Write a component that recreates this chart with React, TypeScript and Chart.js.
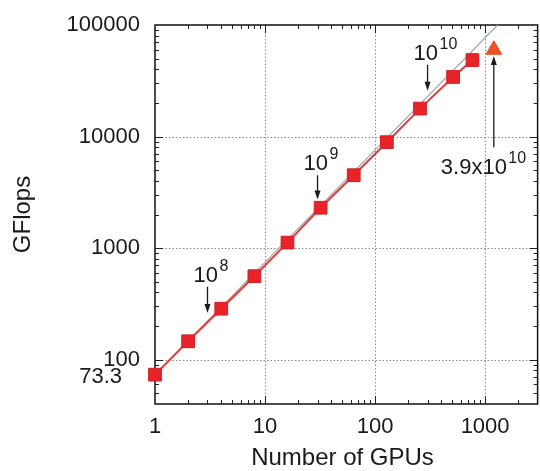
import React, { useEffect, useRef } from "react";
import { Chart, registerables } from "chart.js";

Chart.register(...registerables);

// ---- data ----
const gpuCounts = [1, 2, 4, 8, 16, 32, 64, 128, 256, 512, 768];
const measuredGflops = [73.3, 146, 286, 560, 1120, 2300, 4500, 8900, 17800, 34200, 48500];
const idealGpus = [1, 1300];
const idealGflops = [73.3, 100000];
const peakGpus = [1200];
const peakGflops = [60000];
const xTickValues = [1, 10, 100, 1000];
const yTickValues = [100, 1000, 10000, 100000];
const xRangeEnd = 3000; // right edge of the plot frame (lies just past the picture)
const baseLabelValue = 73.3;
const baseLabelText = "73.3";

// annotations (problem sizes), arrows in data coordinates
const noteGpus = [3, 30, 300, 1200];
const noteFromGflops = [450, 4500, 44000, 8000];
const noteToGflops = [262, 2730, 25700, 52700];
const noteBase = ["10", "10", "10", "3.9x10"];
const noteExp = ["8", "9", "10", "10"];

const FONT = "'Liberation Sans', Arial, Helvetica, sans-serif";

const decorPlugin = {
  id: "decor",
  beforeDatasetsDraw(chart: any) {
    const { ctx, chartArea: a, scales } = chart;
    const xs = scales.x;
    const ys = scales.y;
    const R = xs.getPixelForValue(xRangeEnd);
    ctx.save();
    // dotted grid at decades
    ctx.strokeStyle = "#8c8c8c";
    ctx.lineWidth = 1;
    ctx.setLineDash([1.5, 2]);
    xTickValues.forEach((v) => {
      if (v <= xs.min || v >= xRangeEnd) return;
      const px = Math.round(xs.getPixelForValue(v)) + 0.5;
      ctx.beginPath();
      ctx.moveTo(px, a.top);
      ctx.lineTo(px, a.bottom);
      ctx.stroke();
    });
    yTickValues.forEach((v) => {
      if (v <= ys.min || v >= ys.max) return;
      const py = Math.round(ys.getPixelForValue(v)) + 0.5;
      ctx.beginPath();
      ctx.moveTo(a.left, py);
      ctx.lineTo(R, py);
      ctx.stroke();
    });
    ctx.setLineDash([]);
    // inward ticks on all four sides
    ctx.strokeStyle = "#222";
    ctx.lineWidth = 1;
    for (let e = 0; e <= 4; e++) {
      for (let n = 1; n <= 9; n++) {
        const v = n * Math.pow(10, e);
        if (v <= xs.min || v >= xRangeEnd) continue;
        const len = n === 1 ? 8 : 4;
        const px = Math.round(xs.getPixelForValue(v)) + 0.5;
        ctx.beginPath();
        ctx.moveTo(px, a.bottom);
        ctx.lineTo(px, a.bottom - len);
        ctx.moveTo(px, a.top);
        ctx.lineTo(px, a.top + len);
        ctx.stroke();
      }
    }
    for (let e = 1; e <= 5; e++) {
      for (let n = 1; n <= 9; n++) {
        const v = n * Math.pow(10, e);
        if (v <= ys.min || v >= ys.max) continue;
        const len = n === 1 ? 8 : 4;
        const py = Math.round(ys.getPixelForValue(v)) + 0.5;
        ctx.beginPath();
        ctx.moveTo(a.left, py);
        ctx.lineTo(a.left + len, py);
        ctx.moveTo(R, py);
        ctx.lineTo(R - len, py);
        ctx.stroke();
      }
    }
    // frame
    ctx.lineWidth = 1.5;
    ctx.strokeStyle = "#111";
    ctx.strokeRect(a.left, a.top, R - a.left, a.bottom - a.top);
    ctx.restore();
  },
  afterDatasetsDraw(chart: any) {
    const { ctx, chartArea: a, scales } = chart;
    const xs = scales.x;
    const ys = scales.y;
    ctx.save();
    ctx.fillStyle = "#1a1a1a";
    ctx.strokeStyle = "#1a1a1a";
    // arrows + labels
    noteGpus.forEach((g, i) => {
      const x = xs.getPixelForValue(g);
      const yFrom = ys.getPixelForValue(noteFromGflops[i]);
      const yTo = ys.getPixelForValue(noteToGflops[i]);
      const dir = yTo > yFrom ? 1 : -1;
      const headLen = 9;
      const headW = 3;
      ctx.lineWidth = 1.3;
      ctx.beginPath();
      ctx.moveTo(x, yFrom);
      ctx.lineTo(x, yTo - dir * headLen * 0.8);
      ctx.stroke();
      ctx.beginPath();
      ctx.moveTo(x, yTo);
      ctx.lineTo(x - headW, yTo - dir * headLen);
      ctx.lineTo(x + headW, yTo - dir * headLen);
      ctx.closePath();
      ctx.fill();
      // label
      let left: number;
      let baseline: number;
      if (dir === 1) {
        left = x - 14;
        baseline = yFrom - 5;
      } else {
        left = x - 53;
        baseline = yFrom + 27;
      }
      ctx.textAlign = "left";
      ctx.textBaseline = "alphabetic";
      ctx.font = `22px ${FONT}`;
      ctx.fillText(noteBase[i], left, baseline);
      const w = ctx.measureText(noteBase[i]).width;
      ctx.font = `16px ${FONT}`;
      ctx.fillText(noteExp[i], left + w + 1.5, baseline - 11);
    });
    // 73.3 label
    ctx.font = `22px ${FONT}`;
    ctx.textAlign = "right";
    ctx.textBaseline = "middle";
    ctx.fillText(baseLabelText, a.left - 33, ys.getPixelForValue(baseLabelValue) + 2);
    ctx.restore();
  },
};

export default function App() {
  const ref = useRef<HTMLCanvasElement | null>(null);

  useEffect(() => {
    document.body.style.margin = "0";
    const canvas = ref.current;
    if (!canvas) return;
    const chart = new Chart(canvas, {
      type: "scatter",
      data: {
        datasets: [
          {
            label: "measured",
            data: gpuCounts.map((x, i) => ({ x, y: measuredGflops[i] })),
            showLine: true,
            borderColor: "#e43a3a",
            borderWidth: 2,
            pointStyle: "rect",
            pointRadius: 9,
            pointHoverRadius: 9,
            pointBackgroundColor: "#e8242a",
            pointBorderColor: "#d01e24",
            pointBorderWidth: 1,
            clip: false,
            order: 1,
          } as any,
          {
            label: "ideal",
            data: idealGpus.map((x, i) => ({ x, y: idealGflops[i] })),
            showLine: true,
            borderColor: "#a6a6a6",
            borderWidth: 1.2,
            pointRadius: 0,
            pointHoverRadius: 0,
            clip: false,
            order: 2,
          } as any,
          {
            label: "peak",
            data: peakGpus.map((x, i) => ({ x, y: peakGflops[i] })),
            showLine: false,
            pointStyle: "triangle",
            pointRadius: 9,
            pointHoverRadius: 9,
            pointBackgroundColor: "#ef5024",
            pointBorderColor: "#e8461e",
            pointBorderWidth: 1,
            clip: false,
            order: 0,
          } as any,
        ],
      },
      options: {
        animation: false,
        responsive: false,
        devicePixelRatio: 1,
        events: [],
        layout: { padding: { left: 0, right: -3, top: 25, bottom: 0 } },
        plugins: {
          legend: { display: false },
          tooltip: { enabled: false },
        },
        scales: {
          x: {
            type: "logarithmic",
            min: 1,
            max: 2559,
            grid: { display: false, drawTicks: false },
            border: { display: false },
            afterBuildTicks: (scale: any) => {
              scale.ticks = xTickValues.map((v) => ({ value: v }));
            },
            afterFit: (scale: any) => {
              scale.height = 67;
              scale.paddingLeft = 0;
              scale.paddingRight = 0;
            },
            ticks: {
              autoSkip: false,
              maxRotation: 0,
              padding: 10,
              color: "#1a1a1a",
              font: { size: 22, family: FONT },
              callback: (v: any) => String(v),
            },
            title: {
              display: true,
              text: "Number of GPUs",
              color: "#1a1a1a",
              font: { size: 24, family: FONT, lineHeight: 1 },
              padding: { top: 0, bottom: 1 },
            },
          },
          y: {
            type: "logarithmic",
            min: 40,
            max: 100000,
            grid: { display: false, drawTicks: false },
            border: { display: false },
            afterBuildTicks: (scale: any) => {
              scale.ticks = yTickValues.map((v) => ({ value: v }));
            },
            afterFit: (scale: any) => {
              scale.width = 155;
              scale.paddingTop = 0;
              scale.paddingBottom = 0;
            },
            ticks: {
              autoSkip: false,
              padding: 15,
              color: "#1a1a1a",
              font: { size: 22, family: FONT },
              callback: (v: any) => String(v),
            },
            title: {
              display: true,
              text: "GFlops",
              color: "#1a1a1a",
              font: { size: 24, family: FONT, lineHeight: 1 },
              padding: { top: 11, bottom: 0 },
            },
          },
        },
      } as any,
      plugins: [decorPlugin],
    });
    return () => chart.destroy();
  }, []);

  return (
    <div style={{ width: 540, height: 471 }}>
      <canvas ref={ref} width={540} height={471} style={{ display: "block" }} />
    </div>
  );
}
